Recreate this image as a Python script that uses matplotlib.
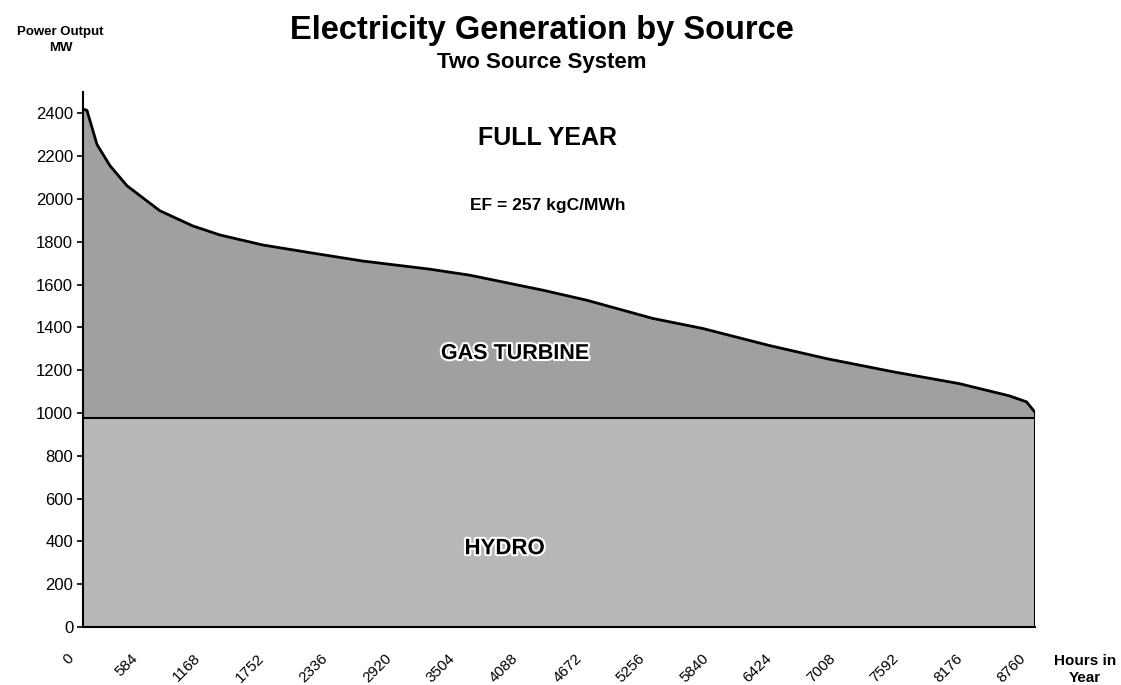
import numpy as np
import matplotlib.pyplot as plt
from matplotlib import patheffects as pe
from matplotlib.transforms import ScaledTranslation

plt.rcParams['font.family'] = ['Liberation Sans', 'DejaVu Sans']

# load duration curve
hours = [0, 37, 129, 248, 405, 708, 1012, 1260, 1656, 2116, 2576, 3193, 3560,
         4232, 4637, 5244, 5704, 6320, 6845, 7452, 8068, 8528, 8685, 8760]
total_mw = [2420, 2414, 2255, 2156, 2062, 1945, 1874, 1832, 1785, 1747, 1710,
            1672, 1644, 1574, 1527, 1442, 1395, 1315, 1254, 1193, 1137, 1080,
            1052, 1005]
hydro_mw = 975
xticks = list(range(0, 8761, 584))
yticks = list(range(0, 2401, 200))

hours = np.array(hours)
total_mw = np.array(total_mw)
hydro = np.full(len(hours), hydro_mw)

fig = plt.figure(figsize=(11.21, 6.85), dpi=100)
ax = fig.add_axes([0.074, 0.0847, 0.849, 0.781])

ax.fill_between(hours, 0, hydro, color='#b8b8b8', lw=0)
ax.fill_between(hours, hydro, total_mw, color='#a0a0a0', lw=0)
ax.plot(hours, total_mw, color='black', lw=2)
ax.plot(hours, hydro, color='black', lw=1.5)
ax.plot([hours[-1], hours[-1]], [0, total_mw[-1]], color='black', lw=1.5)

ax.set_xlim(0, 8760)
ax.set_ylim(0, 2500)
ax.spines['top'].set_visible(False)
ax.spines['right'].set_visible(False)
ax.spines['left'].set_linewidth(1.5)
ax.spines['bottom'].set_linewidth(1.5)

ax.set_yticks(yticks)
ax.set_yticklabels([str(v) for v in yticks], fontsize=12)
ax.tick_params(axis='y', length=4, width=1.2, pad=3)
ax.set_xticks(xticks)
ax.set_xticklabels([str(v) for v in xticks], fontsize=11, rotation=45,
                   ha='right', va='center', rotation_mode='anchor')
ax.tick_params(axis='x', length=0, pad=21)
shift = ScaledTranslation(-8 / 72, 0, fig.dpi_scale_trans)
for lab in ax.get_xticklabels():
    lab.set_transform(lab.get_transform() + shift)

glow = [pe.withStroke(linewidth=3, foreground='white')]
ax.text(4278, 2287, 'FULL YEAR', ha='center', va='center', fontsize=18, fontweight='bold')
ax.text(4278, 1968, 'EF = 257 kgC/MWh', ha='center', va='center', fontsize=12.5, fontweight='bold')
ax.text(3974, 1278, 'GAS TURBINE', ha='center', va='center', fontsize=15.5,
        fontweight='bold', path_effects=glow)
ax.text(3882, 366, 'HYDRO', ha='center', va='center', fontsize=16,
        fontweight='bold', path_effects=glow)

fig.text(0.4835, 0.955, 'Electricity Generation by Source', ha='center', va='center',
         fontsize=23.5, fontweight='bold')
fig.text(0.4835, 0.909, 'Two Source System', ha='center', va='center',
         fontsize=16, fontweight='bold')
fig.text(0.054, 0.942, 'Power Output\nMW', ha='center', va='center', fontsize=9.5,
         fontweight='bold', linespacing=1.4)
fig.text(0.968, 0.023, 'Hours in\nYear', ha='center', va='center', fontsize=11,
         fontweight='bold', linespacing=1.3)

plt.savefig('out.png', dpi=100)
